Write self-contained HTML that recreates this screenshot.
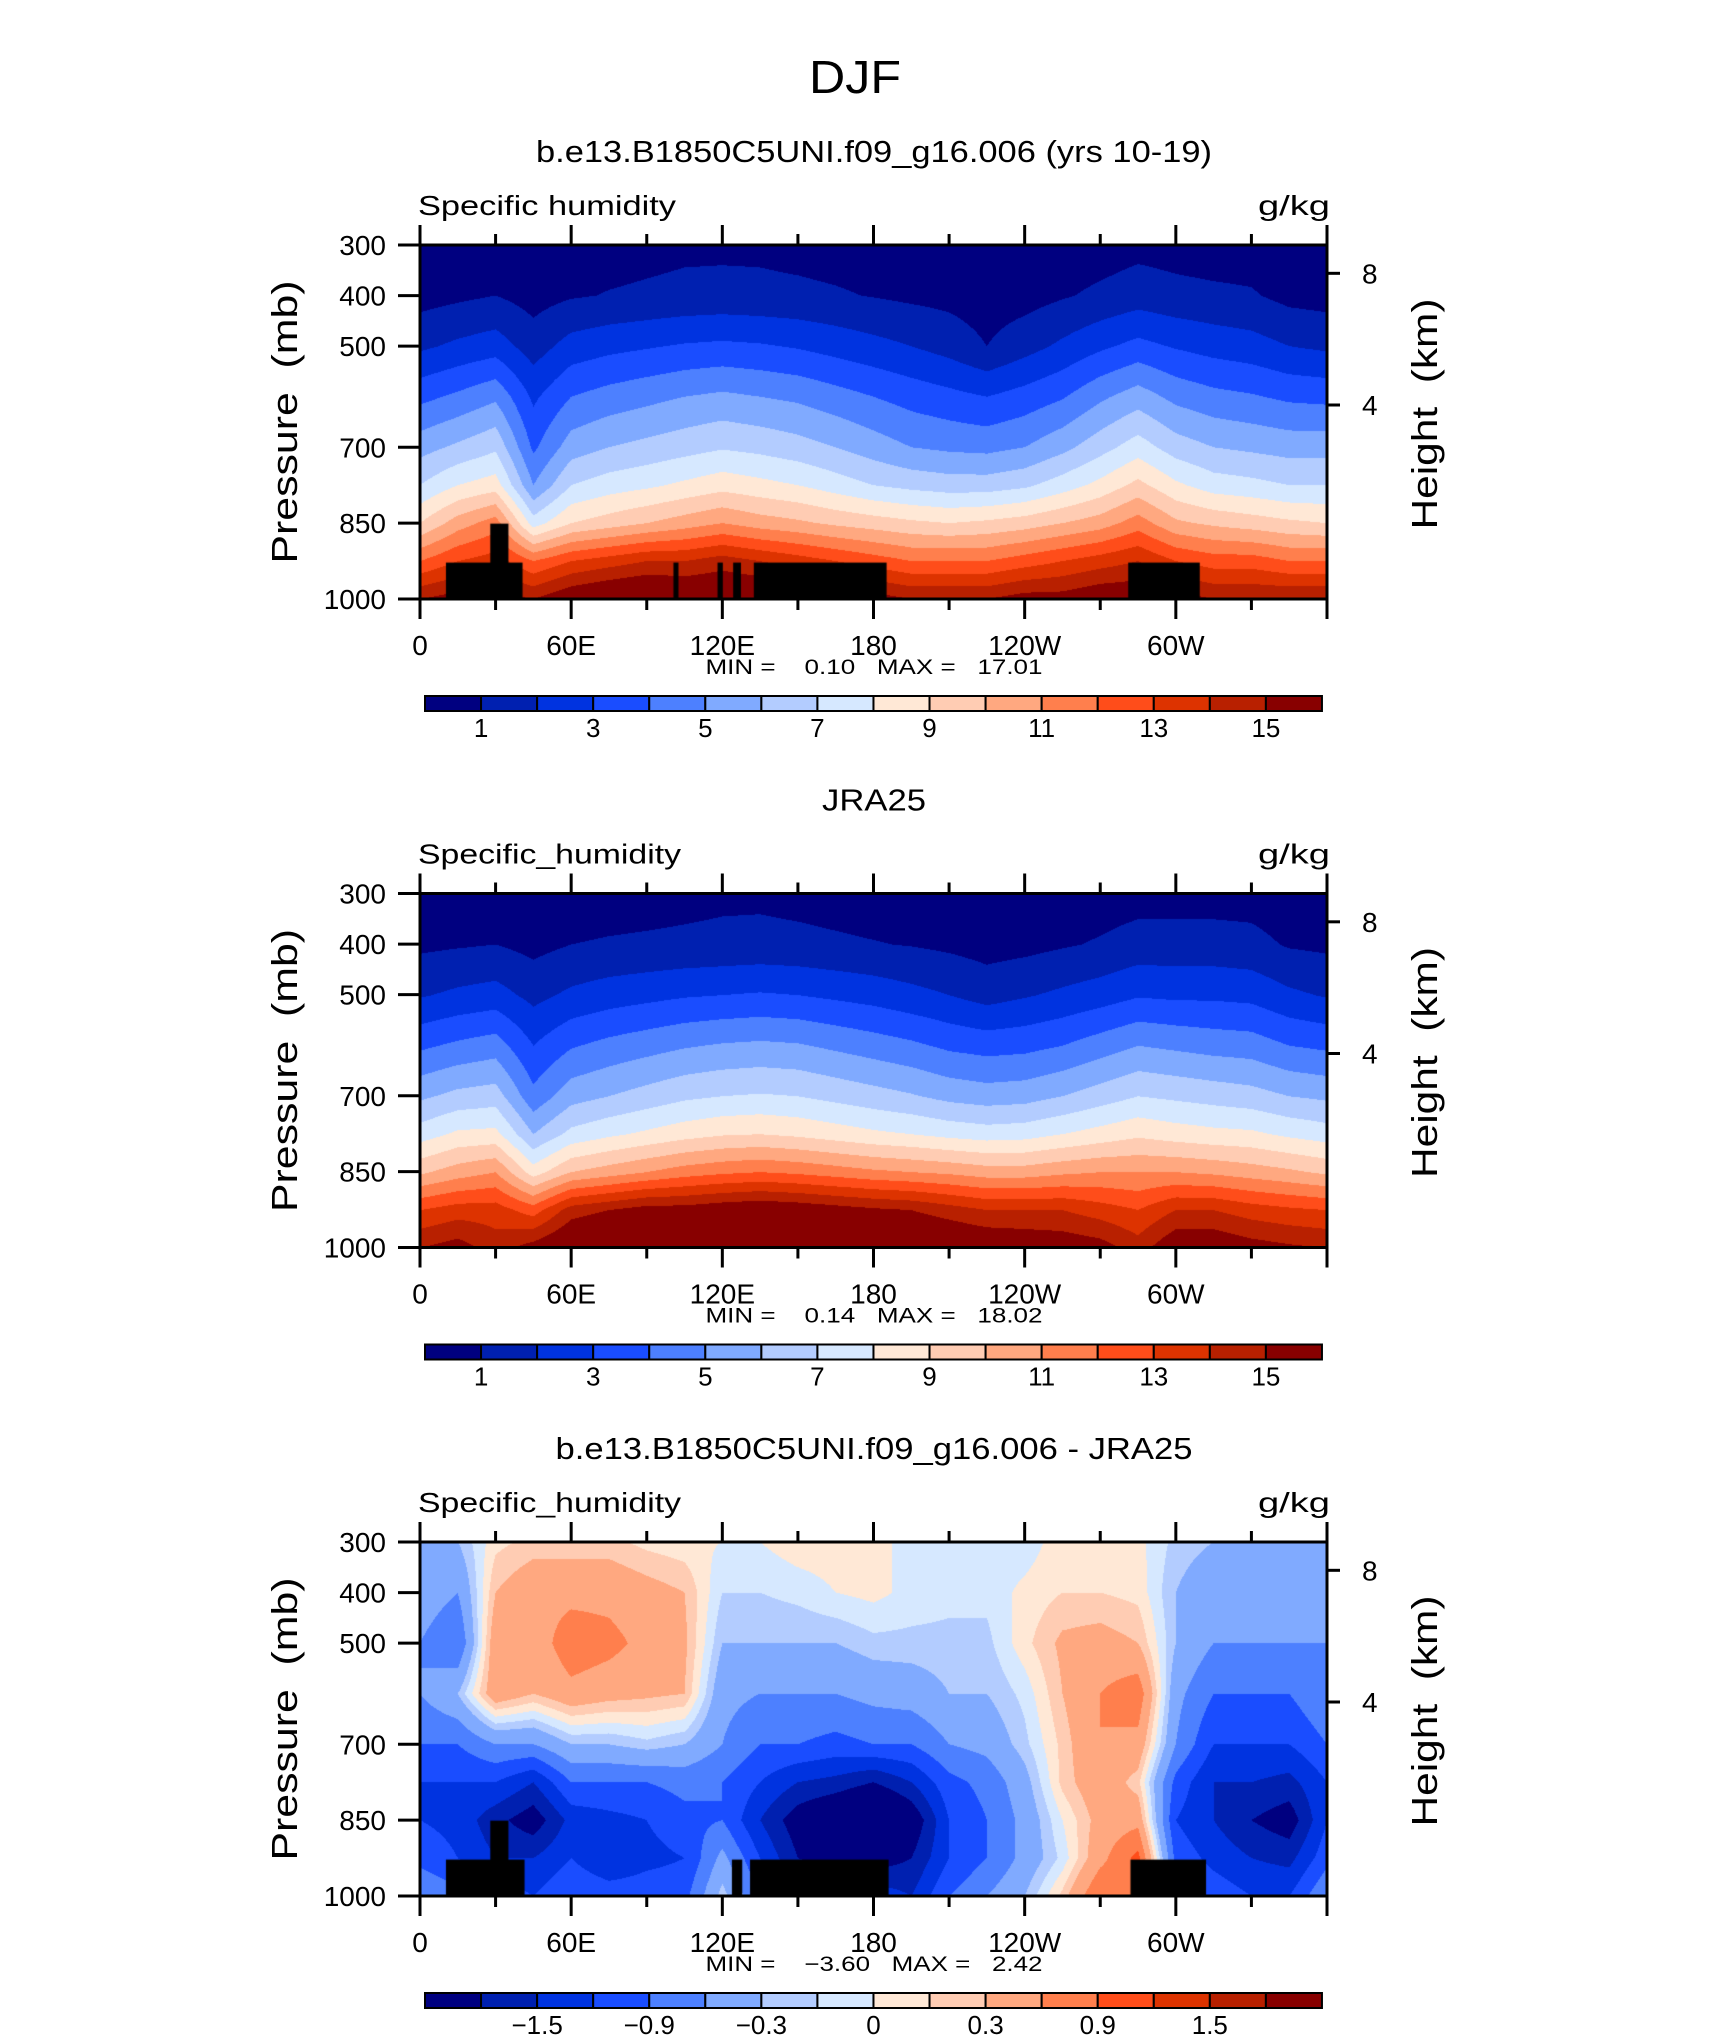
<!DOCTYPE html>
<html><head><meta charset="utf-8">
<style>
html,body{margin:0;padding:0;background:#fff;}
#wrap{position:relative;width:1710px;height:2038px;overflow:hidden;background:#fff;}
canvas{position:absolute;}
svg{position:absolute;left:0;top:0;}
text{font-family:"Liberation Sans",sans-serif;fill:#000;white-space:pre;}
</style></head>
<body>
<div id="wrap">
<canvas id="c0" width="907" height="354" style="left:420px;top:245px"></canvas>
<canvas id="c1" width="907" height="354" style="left:420px;top:893.5px"></canvas>
<canvas id="c2" width="907" height="354" style="left:420px;top:1542px"></canvas>
<svg id="ov" width="1710" height="2038"></svg>
</div>
<script>
// ---------- data ----------
const lons = [0,15,30,45,60,75,90,105,120,135,150,165,180,195,210,225,240,255,270,285,300,315,330,345,360];
const plevs = [300,400,500,600,700,775,850,925,1000];
const qModel = [
[0.4,0.6,1.8,3.7,5.6,7.0,9.0,12,15],
[0.4,0.8,2.2,4.2,6.2,8.0,10.5,13,15.5],
[0.5,1.0,2.5,4.8,6.8,8.5,11.5,13.5,15.5],
[0.3,0.6,1.5,2.8,3.8,5.0,7.5,12,15],
[0.5,0.9,2.4,4.0,5.5,7.0,9.0,13,16],
[0.6,1.05,2.7,4.4,6.0,7.5,9.5,13.5,16.5],
[0.7,1.15,2.9,4.7,6.3,7.8,10,14,16.8],
[0.8,1.25,3.1,5.0,6.6,8.2,10.5,14,16.5],
[0.8,1.3,3.2,5.2,6.9,8.6,11,14.5,16.5],
[0.8,1.25,3.1,5.0,6.7,8.3,10.5,14,16.5],
[0.7,1.2,2.9,4.8,6.4,8.0,10.2,13.5,16.5],
[0.6,1.1,2.6,4.4,6.0,7.5,9.8,13,16],
[0.5,0.95,2.3,4.0,5.5,7.0,9.5,12.5,15.5],
[0.4,0.8,2.0,3.6,5.0,6.7,9.2,12,15],
[0.3,0.7,1.6,3.3,4.8,6.5,9.0,12,15],
[0.3,0.5,1.0,3.0,4.7,6.5,9.2,12,15],
[0.3,0.6,1.6,3.4,5.0,6.8,9.5,12.5,15.5],
[0.4,0.9,2.2,3.9,5.7,7.5,10,13,15.5],
[0.5,1.2,2.8,4.8,6.6,8.3,10.5,13.5,16],
[0.7,1.5,3.3,5.5,7.5,9.3,11.5,14,16],
[0.6,1.3,2.9,4.7,6.5,8.2,10.2,13,15.5],
[0.5,1.2,2.6,4.3,6.0,7.5,9.8,12.5,15],
[0.5,1.1,2.4,4.1,5.8,7.3,9.5,12.5,15],
[0.3,0.7,2.0,3.8,5.6,7.0,9.2,12,15],
[0.4,0.6,1.8,3.7,5.6,7.0,9.0,12,15]
];
const qJra = [
[0.4,0.8,1.9,3.8,5.8,7.5,9.8,13,15],
[0.4,0.9,2.2,4.2,6.3,8.2,10.5,13.5,15.5],
[0.5,1.0,2.4,4.5,6.5,8.3,11,13.5,14.5],
[0.3,0.7,1.7,3.0,4.3,6.0,8.5,12.5,15.5],
[0.4,1.0,2.2,3.9,5.6,7.3,10,14.5,16.5],
[0.5,1.1,2.5,4.3,6.0,7.8,10.5,15,17],
[0.6,1.15,2.7,4.6,6.4,8.2,11,15.5,17.2],
[0.7,1.2,2.9,4.9,6.8,8.6,11.5,15.5,17.3],
[0.8,1.25,3.0,5.1,7.0,8.9,11.8,15.8,17.4],
[0.8,1.3,3.1,5.2,7.1,9.0,12,16,17.5],
[0.7,1.25,3.0,5.1,7.0,8.8,11.8,15.8,17.5],
[0.6,1.15,2.8,4.8,6.7,8.5,11.5,15.5,17.3],
[0.5,1.05,2.6,4.5,6.4,8.2,11.2,15.2,17],
[0.4,0.95,2.3,4.2,6.1,8.0,11,15,16.8],
[0.3,0.8,2.0,3.8,5.7,7.7,10.8,14.5,16.5],
[0.3,0.6,1.6,3.6,5.5,7.5,10.5,14,16.2],
[0.3,0.7,1.9,3.7,5.6,7.6,10.5,14,16],
[0.4,0.9,2.2,4.0,6.0,8.0,10.8,14,15.8],
[0.5,1.1,2.5,4.5,6.5,8.4,11,13.5,15.5],
[0.6,1.4,2.9,5.0,7.0,8.8,11,13,14.5],
[0.6,1.4,2.8,4.8,6.8,8.5,11,14,16],
[0.6,1.4,2.8,4.6,6.6,8.3,10.8,14,16],
[0.6,1.3,2.7,4.5,6.4,8.2,10.5,13.5,15.5],
[0.4,0.9,2.2,4.0,6.0,7.8,10.2,13.2,15.2],
[0.4,0.8,1.9,3.8,5.8,7.5,9.8,13,15]
];
const qDiff = [
[-0.3,-0.4,-0.6,-0.6,-0.9,-1.2,-1.2,-1.0,-0.6],
[-0.3,-0.6,-0.9,-0.3,-0.9,-1.2,-1.3,-1.2,-0.8],
[0.1,0.3,0.5,0.5,-0.6,-1.2,-1.7,-1.5,-1.0],
[0.2,0.5,0.4,0.3,-0.6,-1.5,-2.0,-1.5,-1.2],
[0.2,0.5,0.8,0.5,-0.3,-0.9,-1.4,-1.2,-0.9],
[0.2,0.5,0.7,0.4,-0.3,-0.9,-1.3,-1.5,-1.0],
[0.1,0.4,0.5,0.35,-0.2,-0.9,-1.2,-1.3,-1.0],
[0.05,0.3,0.35,0.3,-0.3,-0.8,-1.0,-1.2,-1.0],
[0.0,-0.15,-0.3,-0.5,-0.6,-0.9,-0.9,-0.5,-0.2],
[0.0,-0.15,-0.3,-0.6,-0.9,-1.2,-1.5,-1.2,-0.9],
[0.1,-0.1,-0.3,-0.6,-0.9,-1.5,-2.0,-1.8,-1.2],
[0.1,0.0,-0.3,-0.6,-1.0,-1.6,-2.3,-2.0,-1.5],
[0.05,0.05,-0.2,-0.5,-0.9,-1.8,-2.6,-2.0,-1.3],
[-0.05,-0.05,-0.2,-0.45,-0.9,-1.5,-2.1,-1.8,-1.5],
[-0.1,-0.1,-0.2,-0.3,-0.6,-1.0,-1.2,-1.2,-0.9],
[-0.1,-0.1,-0.2,-0.3,-0.5,-0.8,-0.9,-0.9,-0.6],
[-0.1,0.05,0.1,-0.1,-0.2,-0.4,-0.5,-0.5,-0.3],
[0.1,0.15,0.35,0.3,0.2,0.2,0.0,-0.1,0.2],
[0.1,0.15,0.4,0.6,0.6,0.5,0.4,0.5,0.9],
[0.05,0.1,0.3,0.8,0.5,0.2,0.5,1.0,0.6],
[-0.2,-0.3,-0.3,-0.5,-0.6,-1.0,-1.2,-1.0,-0.8],
[-0.3,-0.5,-0.6,-0.9,-1.2,-1.5,-1.5,-1.3,-1.0],
[-0.3,-0.5,-0.6,-0.9,-1.2,-1.5,-1.8,-1.5,-1.2],
[-0.3,-0.4,-0.6,-0.9,-1.2,-1.6,-2.0,-1.6,-1.2],
[-0.3,-0.4,-0.6,-0.6,-0.9,-1.2,-1.2,-1.0,-0.6]
];
const levelsQ = [1,2,3,4,5,6,7,8,9,10,11,12,13,14,15];
const levelsD = [-1.8,-1.5,-1.2,-0.9,-0.6,-0.3,-0.15,0,0.15,0.3,0.6,0.9,1.2,1.5,1.8];
const cbLabelsQ = ["1","3","5","7","9","11","13","15"];
const cbLabelsD = ["\u22121.5","\u22120.9","\u22120.3","0","0.3","0.9","1.5"];
const maskModel = [[10.3,40.7,928],[27.9,35.1,851],[100.6,102.6,928],[118.1,120.2,928],[124.3,127.4,928],[132.5,185.2,928],[281.1,309.5,928]];
const maskDiff = [[10.3,41.5,928],[27.9,35.1,851],[123.8,127.9,928],[131,186,928],[282,312,928]];
const pTicks = [300,400,500,700,850,1000];
const zTicks = [8,4];
const lonLabels = ["0","60E","120E","180","120W","60W"];
const minmax = [["0.10","17.01"],["0.14","18.02"],["\u22123.60","2.42"]];
const colors = ["#000080","#0020B0","#0033E0","#1A4DFF","#4D80FF","#80AAFF","#B3CCFF","#D6E8FF","#FFE8D6","#FFCCB3","#FFA880","#FF7F4D","#FF4D1A","#DD3300","#B82000","#880000"];

// ---------- geometry ----------
const PX=420, PW=907, PH=354, TOPS=[245,893.5,1542];
function xOf(lon){return PX+lon/360*PW;}
function yOf(p,k){return TOPS[k]+(p-300)/700*PH;}

function interp(field,lon,p){
  let i=Math.min(Math.floor(lon/15),23); let fx=(lon-lons[i])/15;
  let j=0; while(j<plevs.length-2 && p>plevs[j+1]) j++;
  let fy=(p-plevs[j])/(plevs[j+1]-plevs[j]);
  const a=field[i][j],b=field[i+1][j],c=field[i][j+1],d=field[i+1][j+1];
  return (a*(1-fx)+b*fx)*(1-fy)+(c*(1-fx)+d*fx)*fy;
}
function hex(h){return [parseInt(h.substr(1,2),16),parseInt(h.substr(3,2),16),parseInt(h.substr(5,2),16)];}
const rgb=colors.map(hex);
function drawField(id,field,levels,mask){
  const cv=document.getElementById(id),ctx=cv.getContext('2d');
  const img=ctx.createImageData(PW,PH);
  for(let y=0;y<PH;y++){const p=300+(y+0.5)/PH*700;
    for(let x=0;x<PW;x++){const lon=(x+0.5)/PW*360;
      const v=interp(field,lon,p);let k=0;while(k<levels.length&&v>=levels[k])k++;
      const o=(y*PW+x)*4,c=rgb[k];img.data[o]=c[0];img.data[o+1]=c[1];img.data[o+2]=c[2];img.data[o+3]=255;}}
  ctx.putImageData(img,0,0);
  ctx.fillStyle='#000';
  if(mask) mask.forEach(m=>{const x0=m[0]/360*PW,x1=m[1]/360*PW,y0=(m[2]-300)/700*PH;ctx.fillRect(x0,y0,x1-x0,PH-y0);});
}
drawField('c0',qModel,levelsQ,maskModel);
drawField('c1',qJra,levelsQ,null);
drawField('c2',qDiff,levelsD,maskDiff);

// ---------- overlay ----------
const NS='http://www.w3.org/2000/svg', svg=document.getElementById('ov');
function mk(tag,attrs,txt){const e=document.createElementNS(NS,tag);for(const k in attrs)e.setAttribute(k,attrs[k]);if(txt!==undefined)e.textContent=txt;svg.appendChild(e);return e;}
function zToP(z){return 1013.25*Math.pow(1-2.25577e-5*z*1000,5.2559);}

let el=mk('text',{x:855,y:93,'font-size':46,'text-anchor':'middle','textLength':92,'lengthAdjust':'spacingAndGlyphs'},'DJF');



const titles=["b.e13.B1850C5UNI.f09_g16.006 (yrs 10-19)","JRA25","b.e13.B1850C5UNI.f09_g16.006 - JRA25"];
const titleW=[676,104,637];
const varNames=["Specific humidity","Specific_humidity","Specific_humidity"];
const varW=[258,263,263];
for(let k=0;k<3;k++){
  const T=TOPS[k], B=T+PH, d=T-245;
  el=mk('text',{x:874,y:162+d,'font-size':31,'text-anchor':'middle','textLength':titleW[k],'lengthAdjust':'spacingAndGlyphs'},titles[k]);
  
  
  el=mk('text',{x:418,y:215+d,'font-size':28,'textLength':varW[k],'lengthAdjust':'spacingAndGlyphs'},varNames[k]);
  
  
  el=mk('text',{x:1330,y:215+d,'font-size':28,'text-anchor':'end','textLength':72,'lengthAdjust':'spacingAndGlyphs'},'g/kg');
  
  
  el=mk('rect',{x:PX,y:T,width:PW,height:PH,fill:'none',stroke:'#000','stroke-width':3});
  
  
  for(let lon=0;lon<=360;lon+=30){
    const L=(lon%60===0)?20:11, x=xOf(lon);
    el=mk('line',{x1:x,y1:B,x2:x,y2:B+L,stroke:'#000','stroke-width':3});
    
    
    el=mk('line',{x1:x,y1:T,x2:x,y2:T-L,stroke:'#000','stroke-width':3});
    
    
  }
  lonLabels.forEach((lab,i)=>{
    el=mk('text',{x:xOf(i*60),y:B+56,'font-size':28,'text-anchor':'middle'},lab);
    
    
  });
  pTicks.forEach(p=>{
    const y=yOf(p,k);
    el=mk('line',{x1:PX-22,y1:y,x2:PX,y2:y,stroke:'#000','stroke-width':3});
    
    
    el=mk('text',{x:386,y:y+10,'font-size':28,'text-anchor':'end'},String(p));
    
    
  });
  zTicks.forEach(z=>{
    const y=yOf(zToP(z),k);
    el=mk('line',{x1:PX+PW,y1:y,x2:PX+PW+13,y2:y,stroke:'#000','stroke-width':3});
    
    
    el=mk('text',{x:1362,y:y+10,'font-size':28},String(z));
    
    
  });
  const cy=T+PH/2;
  el=mk('text',{x:0,y:0,'font-size':36,'text-anchor':'middle','textLength':283,'lengthAdjust':'spacingAndGlyphs',transform:`translate(297,${cy}) rotate(-90)`},'Pressure  (mb)');
  
  
  el=mk('text',{x:0,y:0,'font-size':36,'text-anchor':'middle','textLength':231,'lengthAdjust':'spacingAndGlyphs',transform:`translate(1437,${cy-8}) rotate(-90)`},'Height  (km)');
  
  
  el=mk('text',{x:874,y:B+75,'font-size':21,'text-anchor':'middle','textLength':337,'lengthAdjust':'spacingAndGlyphs'},`MIN =    ${minmax[k][0]}   MAX =   ${minmax[k][1]}`);
  
  
  const cbY=TOPS[k]+451, cw=56.06;
  for(let i=0;i<16;i++){
    el=mk('rect',{x:425+i*cw,y:cbY,width:cw,height:15,fill:colors[i],stroke:'#000','stroke-width':2});
    
    
  }
  const labs=(k<2)?cbLabelsQ:cbLabelsD;
  labs.forEach((lab,i)=>{
    const b=(k<2)?(1+2*i):(2+2*i);
    el=mk('text',{x:425+b*cw,y:cbY+41,'font-size':26,'text-anchor':'middle'},lab);
    
    
  });
}
</script>
</body></html>
